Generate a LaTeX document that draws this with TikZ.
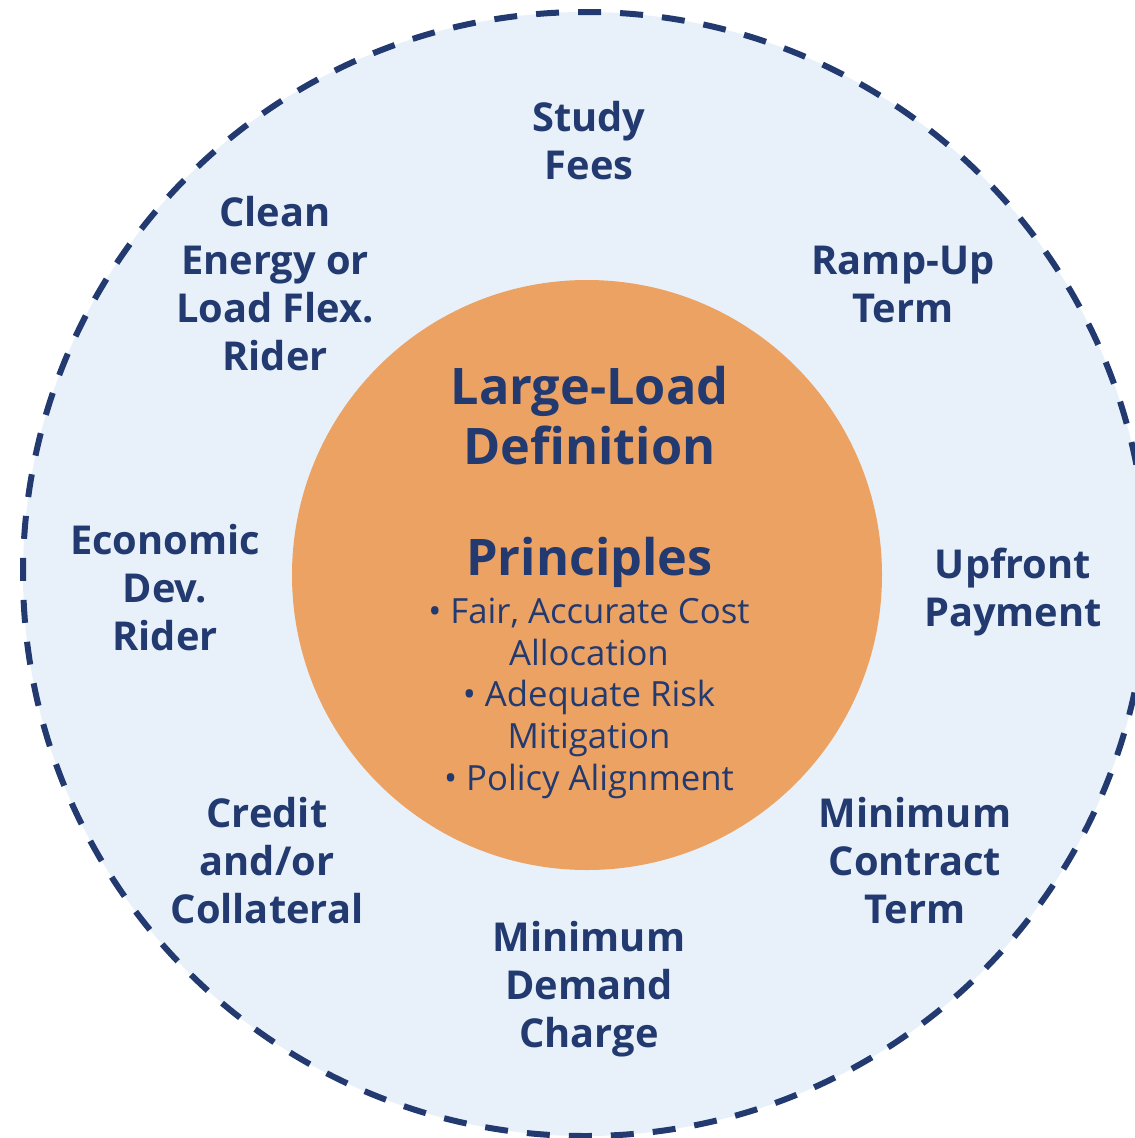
\documentclass[tikz,border=0pt]{standalone}
\usepackage{fontspec}
\setmainfont{Open Sans}
\definecolor{navy}{HTML}{223A70}
\definecolor{ringfill}{HTML}{E8F1F9}
\definecolor{corefill}{HTML}{ECA263}
\begin{document}
\begin{tikzpicture}[x=1pt,y=-1pt,
  ring/.style={circle, draw=navy, fill=ringfill, line width=6pt,
    dash pattern=on 23pt off 19.04pt, dash phase=16pt, inner sep=0pt, minimum size=1124pt},
  core/.style={circle, fill=corefill, inner sep=0pt, minimum size=590pt},
  lbl/.style={inner sep=0pt, align=center, text=navy,
    font=\fontsize{39.8}{48}\selectfont\bfseries},
  title/.style={inner sep=0pt, align=center, text=navy,
    font=\fontsize{50.4}{60}\selectfont\bfseries},
  bullets/.style={inner sep=0pt, align=center, text=navy,
    font=\fontsize{34.7}{41.8}\selectfont}
]
\useasboundingbox (0,0) rectangle (1135,1138);
\clip (0,0) rectangle (1135,1138);
\node[ring] (outer) at (585,574) {};
\node[core] (inner) at (587,575) {};

\node[lbl] (study)   at (589,145.5) {\strut Study\\Fees\strut};
\node[lbl] (clean)   at (275,288.5) {\strut Clean\\Energy or\\Load Flex.\\Rider\strut};
\node[lbl] (ramp)    at (903,288.5) {\strut Ramp-Up\\Term\strut};
\node[lbl] (econ)    at (165,593)   {\strut Economic\\Dev.\\Rider\strut};
\node[lbl] (upfront) at (1013,592.5) {\strut Upfront\\Payment\strut};
\node[lbl] (credit)  at (267,866)   {\strut Credit\\and/or\\Collateral\strut};
\node[lbl] (mincon)  at (915,866)   {\strut Minimum\\Contract\\Term\strut};
\node[lbl] (mindem)  at (589,990)   {\strut Minimum\\Demand\\Charge\strut};

\node[title] (def)   at (589.5,422) {\strut Large-Load\\Definition\strut};
\node[title] (princ) at (589.5,563.5) {\strut Principles\strut};
\node[bullets] (list) at (589,698.5) {\strut • Fair, Accurate Cost\\Allocation\\• Adequate Risk\\Mitigation\\• Policy Alignment\strut};
\end{tikzpicture}
\end{document}
